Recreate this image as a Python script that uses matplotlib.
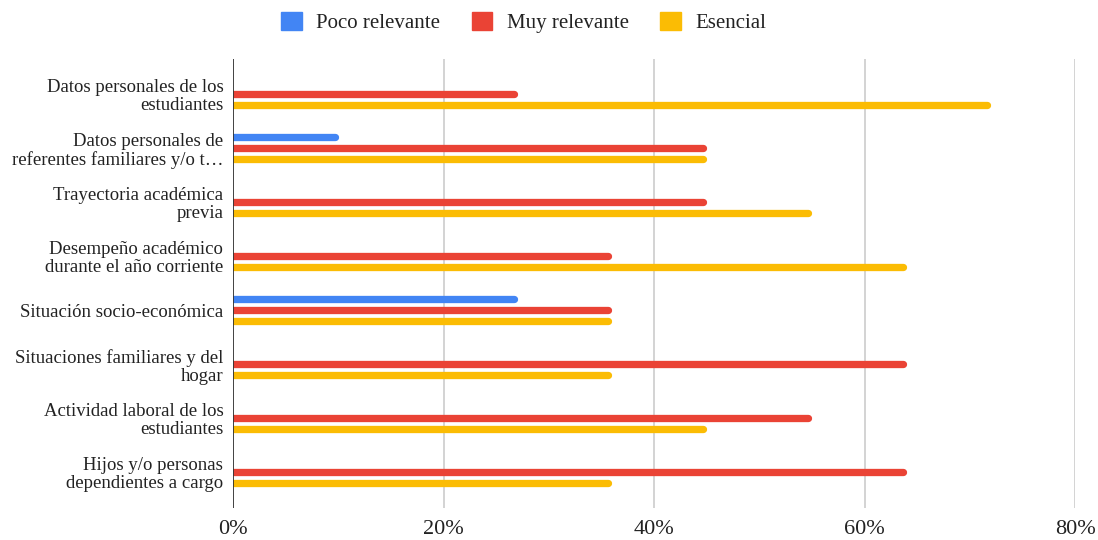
import matplotlib

matplotlib.use("Agg")
import matplotlib.pyplot as plt
from matplotlib.patches import Patch

CATEGORIES = [
    "Datos personales de los\nestudiantes",
    "Datos personales de\nreferentes familiares y/o t\u2026",
    "Trayectoria académica\nprevia",
    "Desempeño académico\ndurante el año corriente",
    "Situación socio-económica",
    "Situaciones familiares y del\nhogar",
    "Actividad laboral de los\nestudiantes",
    "Hijos y/o personas\ndependientes a cargo",
]
POCO = [0, 10, 0, 0, 27, 0, 0, 0]
MUY = [27, 45, 45, 36, 36, 64, 55, 64]
ESENCIAL = [72, 45, 55, 64, 36, 36, 45, 36]
SERIES = [
    ("Poco relevante", POCO, "#4285F4"),
    ("Muy relevante", MUY, "#EA4335"),
    ("Esencial", ESENCIAL, "#FBBC04"),
]
XTICKS = [0, 20, 40, 60, 80]

FONT = "Liberation Serif"
DPI = 100
BAR_PX = 7.3
OFFSET = 11 / 54  # distance between bars in a group, in category units

plt.rcParams["font.family"] = [FONT, "DejaVu Serif"]

fig = plt.figure(figsize=(10.98, 5.4), dpi=DPI)
ax = fig.add_axes([0.2122, 0.0593, 0.9791 - 0.2122, 0.8907 - 0.0593])
ax.set_xlim(0, 80)
ax.set_ylim(len(CATEGORIES) - 1 + 0.657, -0.657)

# round caps stick out by half the line width, pull the line end back by that much
ax_width_px = ax.get_position().width * fig.get_figwidth() * DPI
cap = (BAR_PX / 2) * 80 / ax_width_px
lw = BAR_PX * 72 / DPI

for i, (name, values, color) in enumerate(SERIES):
    for j, v in enumerate(values):
        if v <= 0:
            continue
        y = j + (i - 1) * OFFSET
        ax.hlines(y, 0, v - cap, color=color, linewidth=lw, capstyle="round", zorder=3)

for x in XTICKS[1:]:
    ax.axvline(x, color="#cccccc", linewidth=1.2, zorder=1)
ax.axvline(0, color="#333333", linewidth=1.3, zorder=4)

for side in ax.spines.values():
    side.set_visible(False)

ax.set_xticks(XTICKS)
ax.set_xticklabels([f"{x}%" for x in XTICKS], fontsize=16, color="#222222")
ax.set_yticks(range(len(CATEGORIES)))
ax.set_yticklabels(CATEGORIES, fontsize=13.5, color="#222222", linespacing=1.05)
ax.tick_params(axis="both", length=0)
ax.tick_params(axis="x", pad=9)
ax.tick_params(axis="y", pad=7)

handles = [Patch(facecolor=c, edgecolor=c, label=n) for n, _, c in SERIES]
fig.legend(
    handles=handles,
    loc="upper center",
    bbox_to_anchor=(0.477, 1.013),
    ncol=3,
    frameon=False,
    fontsize=15,
    handlelength=1.0,
    handleheight=1.0,
    handletextpad=0.7,
    columnspacing=1.5,
    labelcolor="#222222",
)

fig.savefig("out.png", dpi=DPI)
